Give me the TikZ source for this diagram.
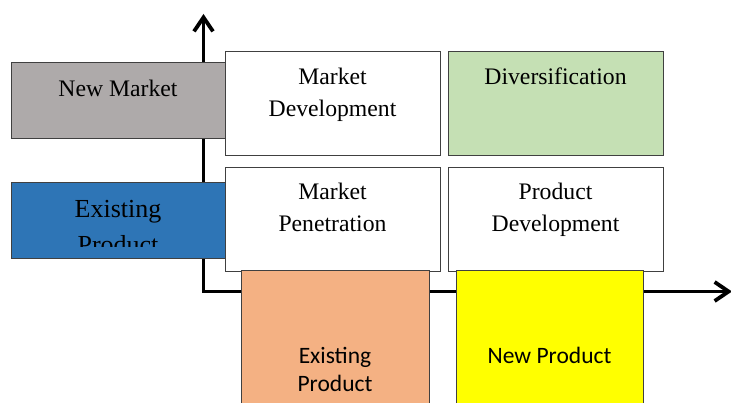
\documentclass[tikz,border=0pt]{standalone}
\usepackage{fontspec}
\setmainfont{Liberation Serif}
\newfontfamily\calib{Carlito}
\usetikzlibrary{arrows.meta}
\definecolor{newmkt}{HTML}{AEAAAA}
\definecolor{exprod}{HTML}{2E75B6}
\definecolor{divers}{HTML}{C5E0B4}
\definecolor{orprod}{HTML}{F4B183}
\definecolor{newprod}{RGB}{255,255,0}
\definecolor{edgegray}{HTML}{404040}
\begin{document}
\begin{tikzpicture}[x = 1pt, y = -1pt]
        \tikzstyle{box} = [draw = edgegray, line width = 1.1pt, anchor = north west, inner sep = 0pt, shape = rectangle]
        \tikzstyle{txt} = [anchor = north, inner sep = 0pt, align = center, font = \fontsize{23.7}{32.5}\selectfont]
        \tikzstyle{sanstxt} = [anchor = north, inner sep = 0pt, align = center, font = \calib\fontsize{23.5}{28}\selectfont]
        \tikzstyle{axis} = [line width = 3.8pt, line join = miter, {Straight Barb[length = 14pt, width = 19pt]}-{Straight Barb[length = 14pt, width = 19pt]}]
        \useasboundingbox (0, 0) rectangle (731, 403);
        \clip (0, 0) rectangle (731, 403);
        \coordinate (ytip) at (203.5, 14);
        \coordinate (O) at (203.5, 291.5);
        \coordinate (xtip) at (732, 291.5);
        \draw[axis] (ytip) -- (O) -- (xtip);
        \node[box, fill = newmkt] (NM) at (11, 62) [minimum width = 214, minimum height = 76] {};
        \node[box, fill = exprod] (EP) at (11, 182) [minimum width = 214, minimum height = 76] {};
        \node[box, fill = white] (MD) at (225, 51) [minimum width = 215, minimum height = 104] {};
        \node[box, fill = divers] (DV) at (448, 51) [minimum width = 215, minimum height = 104] {};
        \node[box, fill = white] (MP) at (225, 167) [minimum width = 215, minimum height = 104] {};
        \node[box, fill = white] (PD) at (448, 167) [minimum width = 215, minimum height = 104] {};
        \node[box, fill = orprod] (XP) at (241, 270) [minimum width = 188, minimum height = 160] {};
        \node[box, fill = newprod] (NP) at (456, 270) [minimum width = 187, minimum height = 160] {};
        \node[txt] (NM-t) at (118, 79.5) {New Market};
        \node[txt] (MD-t) at (332.5, 67.8) {Market\\Development};
        \node[txt] (DV-t) at (555.5, 67.8) {Diversification};
        \node[txt] (MP-t) at (332.5, 182.8) {Market\\Penetration};
        \node[txt] (PD-t) at (555.5, 182.8) {Product\\Development};
        \begin{scope}
          \clip (11, 182) rectangle (225, 247);
          \node[txt, font = \fontsize{26}{36}\selectfont] (EP-t) at (118, 199.8) {Existing\\Product};
        \end{scope}
        \node[sanstxt] (XP-t) at (335, 347.3) {Existing\\Product};
        \node[sanstxt] (NP-t) at (549.5, 346.6) {New Product};
      \end{tikzpicture}
\end{document}
